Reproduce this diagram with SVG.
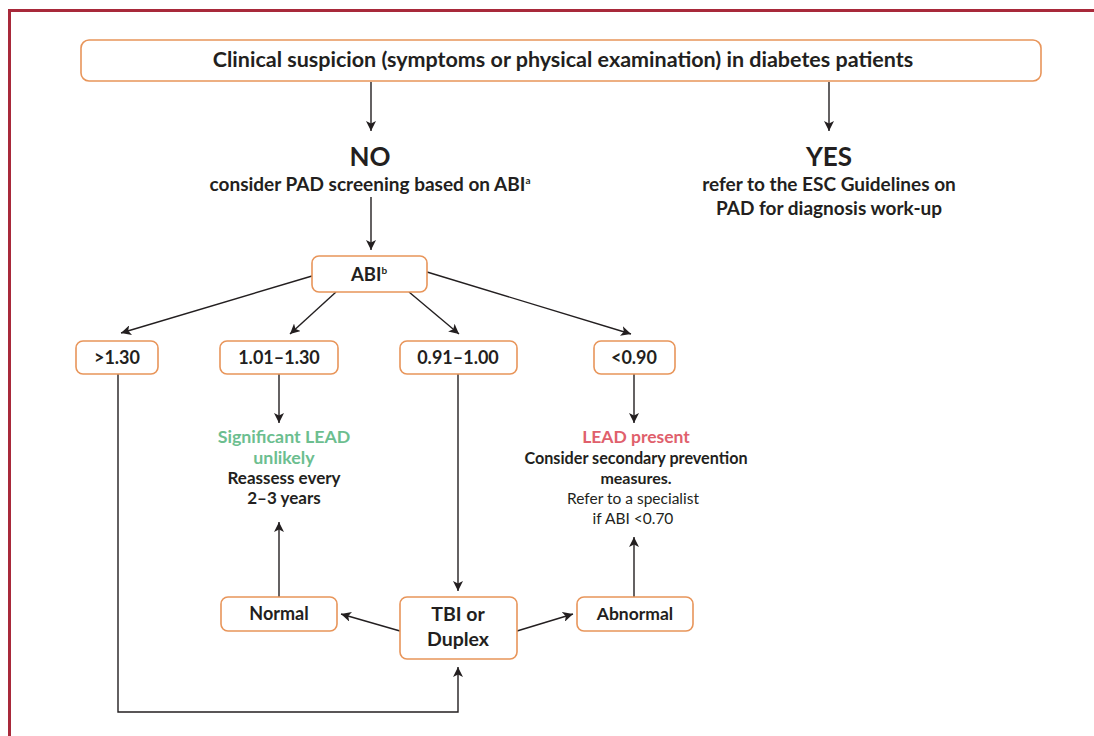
<svg xmlns="http://www.w3.org/2000/svg" width="1094" height="736" viewBox="0 0 1094 736">
<style>
.box{fill:#fff;stroke:#E8955A;stroke-width:1.6}
.t{font-family:Lato,"Open Sans",sans-serif;font-weight:bold;fill:#231F20;text-anchor:middle}
.n{font-family:Lato,"Open Sans",sans-serif;font-weight:normal;fill:#231F20;text-anchor:middle}
.g{fill:#6CBE8F}
.r{fill:#E0606C}
.c{fill:none;stroke:#231F20;stroke-width:1.4}
</style>
<defs>
<marker id="ah" viewBox="0 0 10 10" refX="10" refY="5" markerWidth="10" markerHeight="10" markerUnits="userSpaceOnUse" orient="auto">
<path d="M0,0 L10,5 L0,10 L2.5,5 Z" fill="#231F20"/>
</marker>
</defs>
<rect width="1094" height="736" fill="#fff"/>
<rect x="9.5" y="10.5" width="1200" height="800" fill="none" stroke="#A8293A" stroke-width="3"/>

<g id="connectors">
<line class="c" x1="371" y1="82" x2="371" y2="131" marker-end="url(#ah)"/>
<line class="c" x1="829" y1="82" x2="829" y2="131" marker-end="url(#ah)"/>
<line class="c" x1="371" y1="197" x2="371" y2="250" marker-end="url(#ah)"/>
<line class="c" x1="312" y1="276" x2="121" y2="333" marker-end="url(#ah)"/>
<line class="c" x1="336" y1="292" x2="290" y2="334" marker-end="url(#ah)"/>
<line class="c" x1="409" y1="292" x2="459" y2="334" marker-end="url(#ah)"/>
<line class="c" x1="427" y1="272" x2="631" y2="334" marker-end="url(#ah)"/>
<line class="c" x1="279" y1="374" x2="279" y2="423" marker-end="url(#ah)"/>
<line class="c" x1="634" y1="374" x2="634" y2="423" marker-end="url(#ah)"/>
<line class="c" x1="458" y1="374" x2="458" y2="591" marker-end="url(#ah)"/>
<polyline class="c" points="118,374 118,712 458,712 458,667" marker-end="url(#ah)"/>
<line class="c" x1="279" y1="597" x2="279" y2="522" marker-end="url(#ah)"/>
<line class="c" x1="634" y1="597" x2="634" y2="537" marker-end="url(#ah)"/>
<line class="c" x1="400" y1="631" x2="341" y2="614" marker-end="url(#ah)"/>
<line class="c" x1="517" y1="631" x2="573" y2="614" marker-end="url(#ah)"/>
</g>

<g id="top">
<rect class="box" x="81" y="40" width="960" height="41" rx="8"/>
<text class="t" x="563" y="67" font-size="21.5">Clinical suspicion (symptoms or physical examination) in diabetes patients</text>
</g>

<g id="no">
<text class="t" x="370" y="166" font-size="26">NO</text>
<text class="t" x="370" y="191" font-size="19">consider PAD screening based on ABI<tspan font-size="10" dy="-7">a</tspan></text>
</g>

<g id="yes">
<text class="t" x="829" y="166" font-size="26">YES</text>
<text class="t" x="829" y="191" font-size="19">refer to the ESC Guidelines on</text>
<text class="t" x="829" y="215" font-size="19">PAD for diagnosis work-up</text>
</g>

<g id="abi">
<rect class="box" x="312" y="256" width="115" height="36" rx="7"/>
<text class="t" x="369" y="281" font-size="18.5">ABI<tspan font-size="10" dy="-7">b</tspan></text>
</g>

<g id="gt130">
<rect class="box" x="76" y="341" width="82" height="33" rx="7"/>
<text class="t" x="117" y="364" font-size="18">&gt;1.30</text>
</g>
<g id="r101">
<rect class="box" x="220" y="341" width="118" height="33" rx="7"/>
<text class="t" x="279" y="364" font-size="18">1.01–1.30</text>
</g>
<g id="r091">
<rect class="box" x="400" y="341" width="117" height="33" rx="7"/>
<text class="t" x="458" y="364" font-size="18">0.91–1.00</text>
</g>
<g id="lt090">
<rect class="box" x="594" y="341" width="81" height="33" rx="7"/>
<text class="t" x="634" y="364" font-size="18">&lt;0.90</text>
</g>

<g id="unlikely">
<text class="t g" x="284" y="443" font-size="17.8">Significant LEAD</text>
<text class="t g" x="284" y="464" font-size="17.8">unlikely</text>
<text class="t" x="284" y="484" font-size="17">Reassess every</text>
<text class="t" x="284" y="504" font-size="17">2–3 years</text>
</g>

<g id="present">
<text class="t r" x="636" y="443" font-size="17.5">LEAD present</text>
<text class="t" x="636" y="464" font-size="16.2">Consider secondary prevention</text>
<text class="t" x="636" y="484" font-size="16">measures.</text>
<text class="n" x="633" y="504" font-size="15.5">Refer to a specialist</text>
<text class="n" x="633" y="524" font-size="15.5">if ABI &lt;0.70</text>
</g>

<g id="normal">
<rect class="box" x="221" y="597" width="116" height="34" rx="7"/>
<text class="t" x="279" y="620" font-size="18">Normal</text>
</g>
<g id="tbi">
<rect class="box" x="400" y="597" width="117" height="62" rx="7"/>
<text class="t" x="458" y="621" font-size="19.5">TBI or</text>
<text class="t" x="458" y="646" font-size="19.5">Duplex</text>
</g>
<g id="abnormal">
<rect class="box" x="577" y="597" width="116" height="34" rx="7"/>
<text class="t" x="635" y="620" font-size="17.5">Abnormal</text>
</g>
</svg>
